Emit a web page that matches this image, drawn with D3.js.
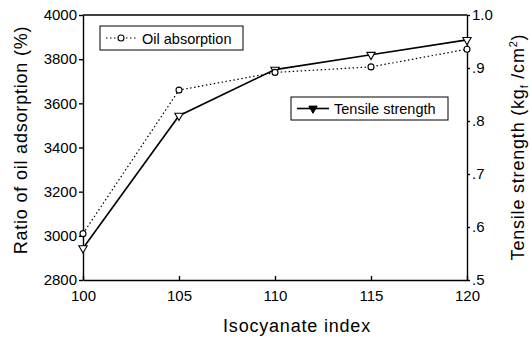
<!DOCTYPE html>
<html>
<head>
<meta charset="utf-8">
<script src="https://cdn.jsdelivr.net/npm/d3@7"></script>
<style>
  body { margin: 0; background: #fff; }
  svg { font-family: "Liberation Sans", Arial, sans-serif; }
  .axis path, .axis line { stroke: #000; stroke-width: 1.4; }
  .axis text { font-size: 15px; fill: #000; }
  .title { font-size: 18px; letter-spacing: 0.8px; }
</style>
</head>
<body>
<div id="chart"></div>
<script>
// data
const isoIndex = [100, 105, 110, 115, 120];
const oilAbsorption = [3010, 3660, 3740, 3765, 3845];
const tensileStrength = [0.56, 0.81, 0.897, 0.925, 0.953];
const leftTicks = [2800, 3000, 3200, 3400, 3600, 3800, 4000];
const rightTicks = [0.5, 0.6, 0.7, 0.8, 0.9, 1.0];

const W = 530, H = 339;
const margin = { top: 15, right: 63, bottom: 59, left: 83 };
const width = W - margin.left - margin.right;
const height = H - margin.top - margin.bottom;

const svg = d3.select("#chart").append("svg")
  .attr("width", W).attr("height", H);

const g = svg.append("g")
  .attr("transform", `translate(${margin.left},${margin.top})`);

const x = d3.scaleLinear().domain([100, 120]).range([0, width]);
const yL = d3.scaleLinear().domain([2800, 4000]).range([height, 0]);
const yR = d3.scaleLinear().domain([0.5, 1.0]).range([height, 0]);

// frame top line
g.append("line")
  .attr("x1", 0).attr("x2", width).attr("y1", 0).attr("y2", 0)
  .attr("stroke", "#000").attr("stroke-width", 1.3);

g.append("g").attr("class", "axis")
  .attr("transform", `translate(0,${height})`)
  .call(d3.axisBottom(x).tickValues(isoIndex).tickSize(-4).tickPadding(10).tickSizeOuter(0));

g.append("g").attr("class", "axis")
  .call(d3.axisLeft(yL).tickValues(leftTicks).tickSize(4).tickPadding(2).tickSizeOuter(0)
    .tickFormat(d3.format("d")));

g.append("g").attr("class", "axis")
  .attr("transform", `translate(${width},0)`)
  .call(d3.axisRight(yR).tickValues(rightTicks).tickSize(3).tickPadding(2).tickSizeOuter(0)
    .tickFormat(d => d === 1 ? "1.0" : d3.format(".1f")(d).replace(/^0/, "")));

// series
const oilLine = d3.line().x((d, i) => x(isoIndex[i])).y(d => yL(d));
const tenLine = d3.line().x((d, i) => x(isoIndex[i])).y(d => yR(d));

g.append("path").datum(oilAbsorption)
  .attr("fill", "none").attr("stroke", "#000").attr("stroke-width", 1.2)
  .attr("stroke-dasharray", "1.5,2.5").attr("d", oilLine);

g.append("path").datum(tensileStrength)
  .attr("fill", "none").attr("stroke", "#000").attr("stroke-width", 1.6)
  .attr("d", tenLine);

const tri = d3.symbol().type(d3.symbolTriangle).size(30);

g.selectAll(".ten-dot").data(tensileStrength).enter().append("path")
  .attr("class", "ten-dot")
  .attr("d", tri)
  .attr("transform", (d, i) => `translate(${x(isoIndex[i])},${yR(d)}) rotate(180)`)
  .attr("fill", "#fff").attr("stroke", "#000").attr("stroke-width", 1.1);

g.selectAll(".oil-dot").data(oilAbsorption).enter().append("circle")
  .attr("class", "oil-dot")
  .attr("cx", (d, i) => x(isoIndex[i])).attr("cy", d => yL(d))
  .attr("r", 3).attr("fill", "#fff").attr("stroke", "#000").attr("stroke-width", 1.1);

// legends
const leg1 = svg.append("g").attr("transform", "translate(100,26)");
leg1.append("rect").attr("width", 143).attr("height", 24)
  .attr("fill", "#fff").attr("stroke", "#000").attr("stroke-width", 1);
leg1.append("line").attr("x1", 6).attr("x2", 36).attr("y1", 12).attr("y2", 12)
  .attr("stroke", "#000").attr("stroke-width", 1.2).attr("stroke-dasharray", "1.5,2.5");
leg1.append("circle").attr("cx", 21).attr("cy", 12).attr("r", 3)
  .attr("fill", "#fff").attr("stroke", "#000").attr("stroke-width", 1.1);
leg1.append("text").attr("x", 42).attr("y", 17.5).attr("font-size", "14.5px").text("Oil absorption");

const leg2 = svg.append("g").attr("transform", "translate(291,97)");
leg2.append("rect").attr("width", 157).attr("height", 23)
  .attr("fill", "#fff").attr("stroke", "#000").attr("stroke-width", 1);
leg2.append("line").attr("x1", 6).attr("x2", 38).attr("y1", 11.5).attr("y2", 11.5)
  .attr("stroke", "#000").attr("stroke-width", 1.6);
leg2.append("path").attr("d", tri)
  .attr("transform", "translate(22,11.5) rotate(180)")
  .attr("fill", "#000").attr("stroke", "#000").attr("stroke-width", 1);
leg2.append("text").attr("x", 43).attr("y", 17).attr("font-size", "14.5px").text("Tensile strength");

// axis titles
svg.append("text").attr("class", "title")
  .attr("x", 297).attr("y", 332)
  .attr("text-anchor", "middle")
  .text("Isocyanate index");

svg.append("text").attr("class", "title")
  .attr("transform", `translate(27,140) rotate(-90)`)
  .attr("text-anchor", "middle")
  .text("Ratio of oil adsorption (%)");

const rt = svg.append("text").attr("class", "title")
  .attr("transform", `translate(524,147) rotate(-90)`)
  .attr("text-anchor", "middle");
rt.append("tspan").text("Tensile strength (kg");
rt.append("tspan").attr("font-size", "11px").attr("dy", 4).text("f");
rt.append("tspan").attr("dy", -4).text(" /cm");
rt.append("tspan").attr("font-size", "11px").attr("dy", -7).text("2");
rt.append("tspan").attr("dy", 7).text(")");
</script>
</body>
</html>
